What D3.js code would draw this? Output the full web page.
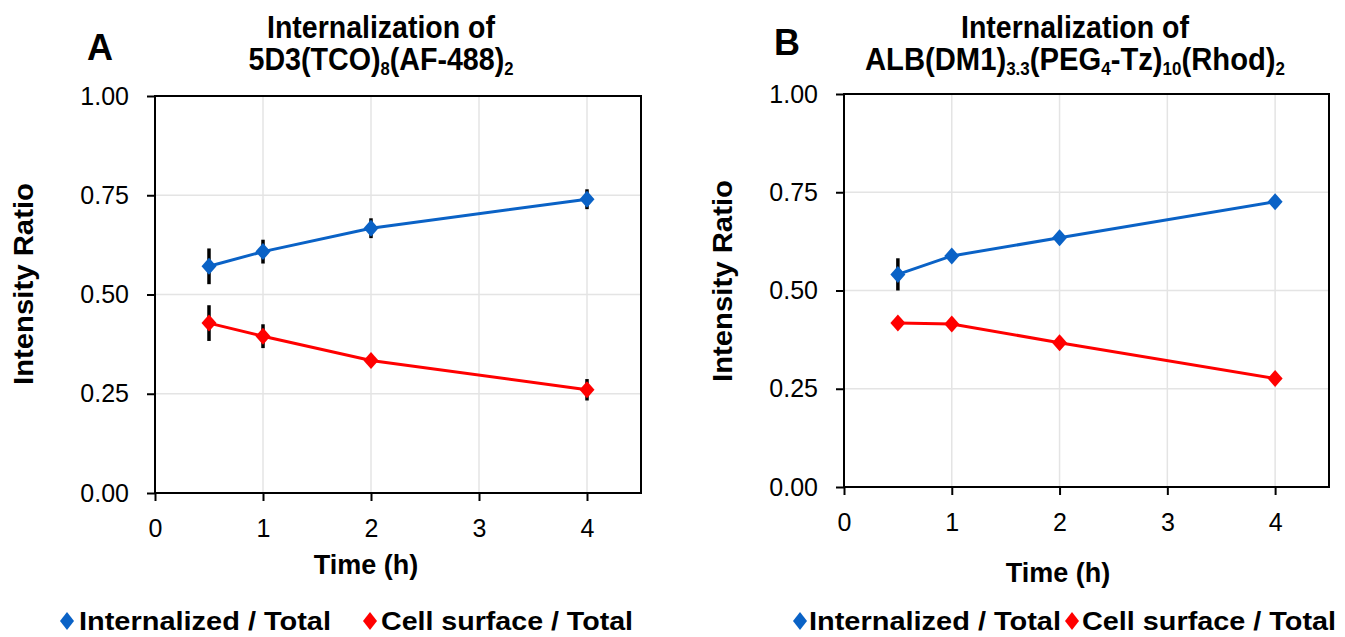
<!DOCTYPE html>
<html>
<head>
<meta charset="utf-8">
<script src="https://cdn.jsdelivr.net/npm/d3@7"></script>
<style>
  body { margin: 0; background: #fff; }
  text { font-family: "Liberation Sans", Arial, sans-serif; fill: #000; }
</style>
</head>
<body>
<div id="chart"></div>
<script>
// shared axes / series
const times = [0.5, 1, 2, 4];
const xTicks = [0, 1, 2, 3, 4];
const yTicks = [0, 0.25, 0.5, 0.75, 1];
const seriesNames = ["Internalized / Total", "Cell surface / Total"];
const seriesColors = ["#0a62c6", "#ff0000"];

// panel A values (mean, error)
const aInternal = [0.571, 0.608, 0.667, 0.740];
const aInternalErr = [0.045, 0.03, 0.025, 0.025];
const aSurface = [0.428, 0.395, 0.334, 0.260];
const aSurfaceErr = [0.045, 0.03, 0.01, 0.027];

// panel B values (mean, error)
const bInternal = [0.541, 0.588, 0.634, 0.726];
const bInternalErr = [0.041, 0.0, 0.0, 0.0];
const bSurface = [0.417, 0.415, 0.367, 0.276];
const bSurfaceErr = [0.0, 0.0, 0.0, 0.0];

// title pieces: [text, isSubscript]
const aTitle = [["5D3(TCO)", 0], ["8", 1], ["(AF-488)", 0], ["2", 1]];
const bTitle = [["ALB(DM1)", 0], ["3.3", 1], ["(PEG", 0], ["4", 1], ["-Tz)", 0], ["10", 1], ["(Rhod)", 0], ["2", 1]];

const svg = d3.select("#chart").append("svg")
  .attr("width", 1345).attr("height", 637);

// diamond with separate half width / half height
function diamond(hw, hh) {
  const p = d3.path();
  p.moveTo(0, -hh); p.lineTo(hw, 0); p.lineTo(0, hh); p.lineTo(-hw, 0); p.closePath();
  return p.toString();
}

function drawPanel(p) {
  const g = svg.append("g");
  const x = d3.scaleLinear().domain([0, 4.5]).range([p.left, p.right]);
  const y = d3.scaleLinear().domain([0, 1]).range([p.bottom, p.top]);

  // grid
  g.selectAll(".gx").data(xTicks.slice(1)).join("line")
    .attr("x1", d => x(d)).attr("x2", d => x(d))
    .attr("y1", p.top).attr("y2", p.bottom)
    .attr("stroke", "#e4e4e4").attr("stroke-width", 1.5);
  g.selectAll(".gy").data(yTicks.slice(1)).join("line")
    .attr("x1", p.left).attr("x2", p.right)
    .attr("y1", d => y(d)).attr("y2", d => y(d))
    .attr("stroke", "#e4e4e4").attr("stroke-width", 1.5);

  // axes
  const xAxis = g.append("g")
    .attr("transform", `translate(0,${p.bottom})`)
    .call(d3.axisBottom(x).tickValues(xTicks).tickSize(8).tickPadding(18).tickFormat(d3.format("d")));
  const yAxis = g.append("g")
    .attr("transform", `translate(${p.left},0)`)
    .call(d3.axisLeft(y).tickValues(yTicks).tickSize(8).tickPadding(18).tickFormat(d3.format(".2f")));
  [xAxis, yAxis].forEach(a => {
    a.select(".domain").remove();
    a.selectAll("line").attr("stroke", "#000").attr("stroke-width", 2);
    a.selectAll("text").attr("font-size", 25).attr("fill", "#222")
      .style("font-family", '"Liberation Sans", Arial, sans-serif');
  });

  // frame
  g.append("rect")
    .attr("x", p.left).attr("y", p.top)
    .attr("width", p.right - p.left).attr("height", p.bottom - p.top)
    .attr("fill", "none").attr("stroke", "#000").attr("stroke-width", 2);

  // series
  p.series.forEach((s, i) => {
    const pts = times.map((t, j) => ({ t, v: s.values[j], e: s.err[j] }));
    g.append("path").datum(pts)
      .attr("fill", "none").attr("stroke", seriesColors[i]).attr("stroke-width", 3)
      .attr("d", d3.line().x(d => x(d.t)).y(d => y(d.v)));
    g.selectAll(null).data(pts.filter(d => d.e > 0)).join("line")
      .attr("x1", d => x(d.t)).attr("x2", d => x(d.t))
      .attr("y1", d => y(d.v - d.e)).attr("y2", d => y(d.v + d.e))
      .attr("stroke", "#000").attr("stroke-width", 3.5);
    g.selectAll(null).data(pts).join("path")
      .attr("transform", d => `translate(${x(d.t)},${y(d.v)})`)
      .attr("d", diamond(7.5, 8.5))
      .attr("fill", seriesColors[i]);
  });

  // axis titles
  g.append("text")
    .attr("x", p.xTitle[0]).attr("y", p.xTitle[1])
    .attr("text-anchor", "middle").attr("font-size", 27).attr("font-weight", "bold")
    .text("Time (h)");
  g.append("text")
    .attr("transform", `translate(${p.yTitle[0]},${p.yTitle[1]}) rotate(-90)`)
    .attr("text-anchor", "middle").attr("font-size", 28).attr("font-weight", "bold")
    .attr("textLength", 202).attr("lengthAdjust", "spacingAndGlyphs")
    .text("Intensity Ratio");

  // panel letter
  g.append("text")
    .attr("x", p.letter[1]).attr("y", p.letter[2])
    .attr("font-size", 36).attr("font-weight", "bold").text(p.letter[0]);

  // title
  g.append("text").attr("x", p.titleX).attr("y", 38)
    .attr("text-anchor", "middle").attr("font-size", 31).attr("font-weight", "bold")
    .attr("textLength", 228).attr("lengthAdjust", "spacingAndGlyphs")
    .text("Internalization of");
  const t2 = g.append("text").attr("x", p.titleX).attr("y", 70)
    .attr("text-anchor", "middle").attr("font-size", 31).attr("font-weight", "bold")
    .attr("textLength", p.title2Len).attr("lengthAdjust", "spacingAndGlyphs");
  let prevSub = false;
  p.title.forEach(([txt, sub]) => {
    t2.append("tspan")
      .attr("font-size", sub ? 18 : 31)
      .attr("dy", sub ? (prevSub ? 0 : 5) : (prevSub ? -5 : 0))
      .text(txt);
    prevSub = !!sub;
  });

  // legend
  seriesNames.forEach((name, i) => {
    const it = p.legend[i];
    g.append("path")
      .attr("transform", `translate(${it[0]},${p.legendY - 9})`)
      .attr("d", diamond(7, 9))
      .attr("fill", seriesColors[i]);
    g.append("text")
      .attr("x", it[1]).attr("y", p.legendY)
      .attr("font-size", 25).attr("font-weight", "bold")
      .attr("textLength", it[2]).attr("lengthAdjust", "spacingAndGlyphs")
      .text(name);
  });
}

drawPanel({
  left: 155, right: 641, top: 96, bottom: 493,
  letter: ["A", 87, 60], titleX: 381, title: aTitle, title2Len: 265,
  xTitle: [366, 574], yTitle: [33, 284],
  legendY: 630, legend: [[67, 79, 252], [370, 381, 252]],
  series: [{ values: aInternal, err: aInternalErr }, { values: aSurface, err: aSurfaceErr }]
});
drawPanel({
  left: 844, right: 1329, top: 94, bottom: 487,
  letter: ["B", 774, 55], titleX: 1075, title: bTitle, title2Len: 420,
  xTitle: [1058, 582], yTitle: [732, 281],
  legendY: 630, legend: [[800, 809, 252], [1072, 1082, 254]],
  series: [{ values: bInternal, err: bInternalErr }, { values: bSurface, err: bSurfaceErr }]
});
</script>
</body>
</html>
